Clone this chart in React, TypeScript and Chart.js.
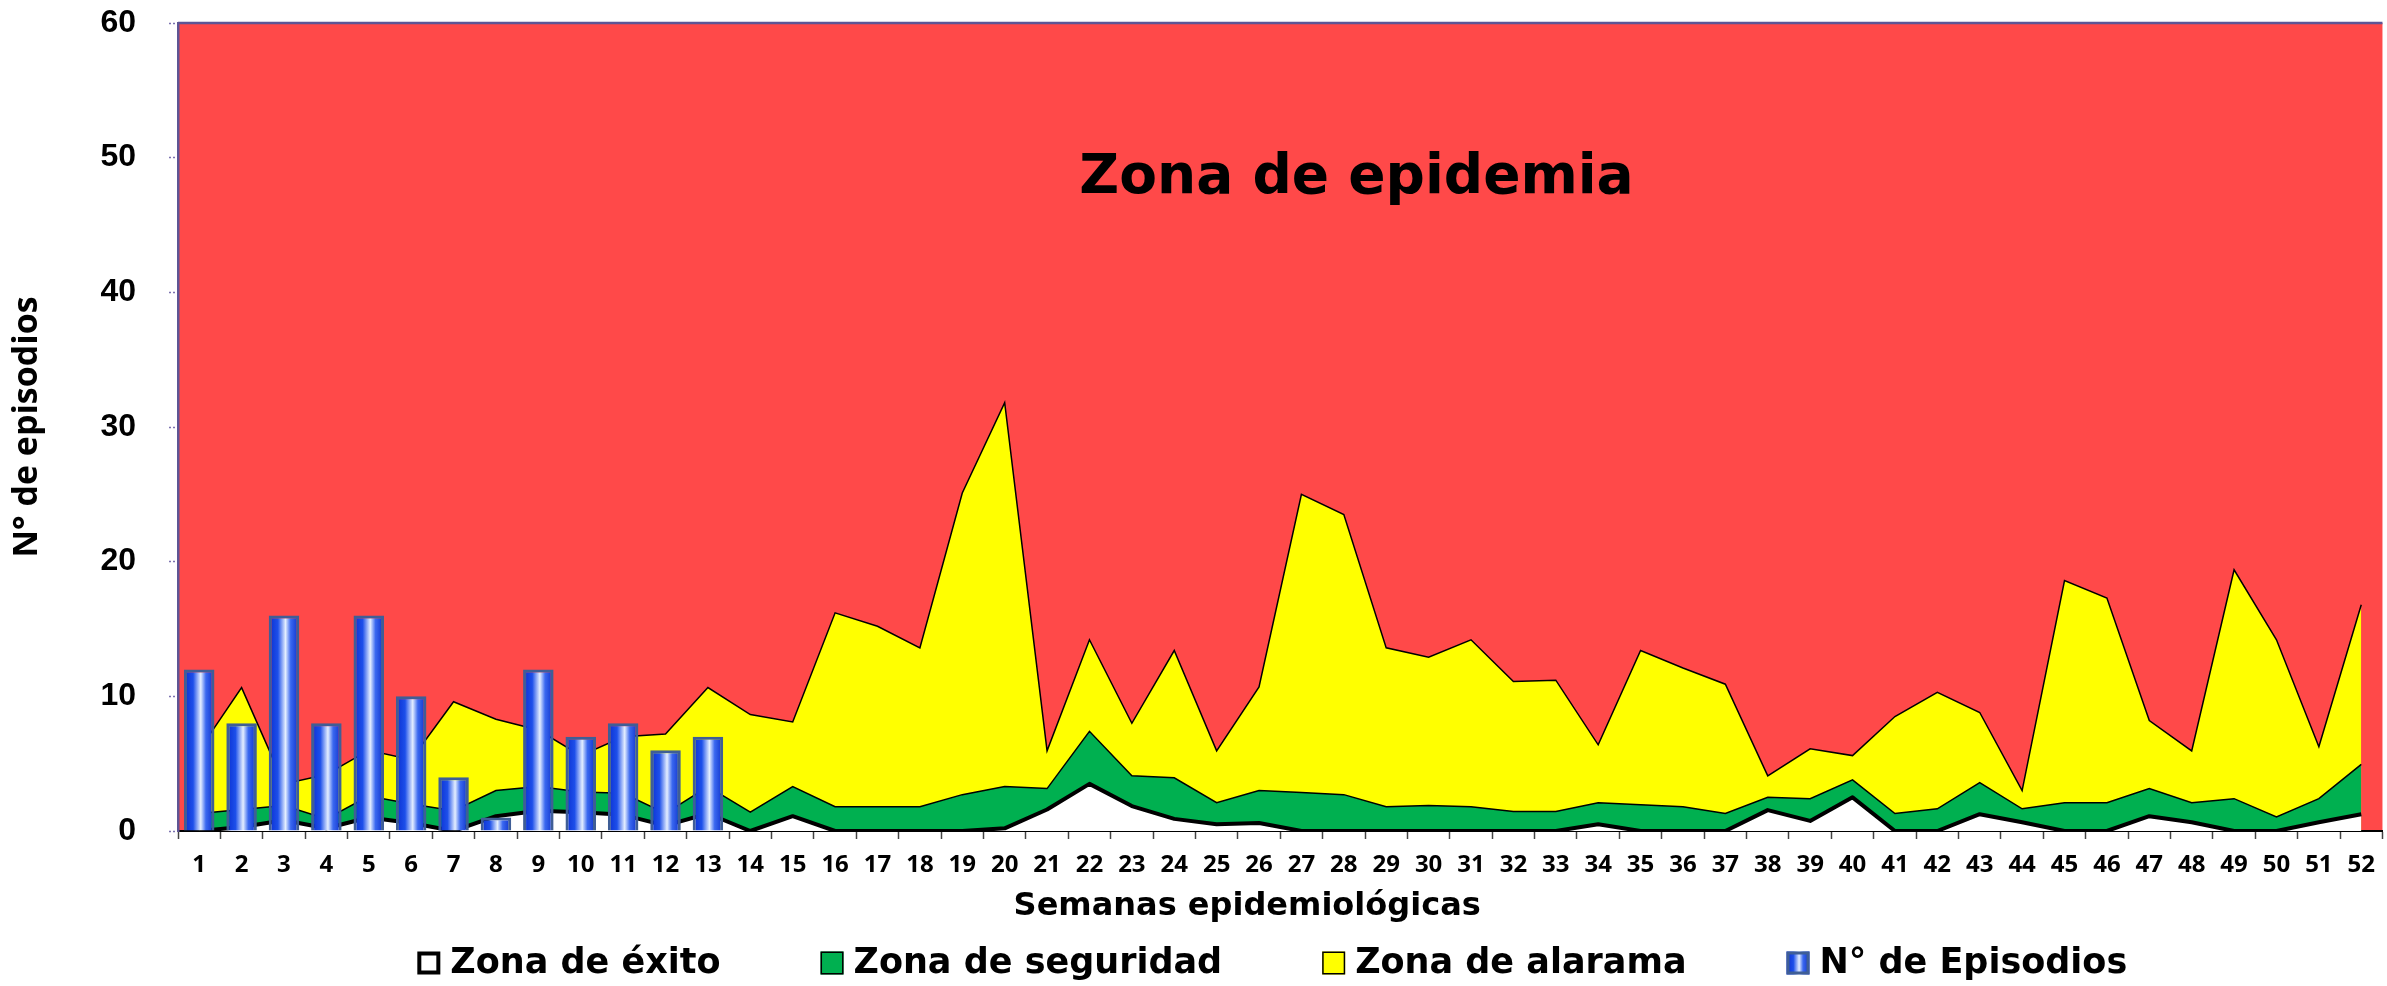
import React, { useEffect, useRef } from 'react';
import { Chart, registerables } from 'chart.js';

Chart.register(...registerables);

// ---- Data ----
const weekLabels = [
  '1', '2', '3', '4', '5', '6', '7', '8', '9', '10', '11', '12', '13',
  '14', '15', '16', '17', '18', '19', '20', '21', '22', '23', '24', '25', '26',
  '27', '28', '29', '30', '31', '32', '33', '34', '35', '36', '37', '38', '39',
  '40', '41', '42', '43', '44', '45', '46', '47', '48', '49', '50', '51', '52',
];

const episodios = [12, 8, 16, 8, 16, 10, 4, 1, 12, 7, 8, 6, 7];

const zonaExito = [
  0, 0.3, 0.8, 0.2, 1.0, 0.6, 0, 1.1, 1.5, 1.4, 1.2, 0.4, 1.3,
  0, 1.1, 0, 0, 0, 0, 0.2, 1.6, 3.5, 1.85, 0.9, 0.5, 0.6,
  0, 0, 0, 0, 0, 0, 0, 0.5, 0, 0, 0, 1.55, 0.75,
  2.5, 0, 0, 1.25, 0.65, 0, 0, 1.1, 0.65, 0, 0, 0.65, 1.25,
];

const zonaSeguridad = [
  1.3, 1.6, 1.9, 0.9, 2.6, 2.0, 1.5, 3.0, 3.3, 2.9, 2.8, 1.3, 3.3,
  1.4, 3.3, 1.8, 1.8, 1.8, 2.7, 3.3, 3.15, 7.4, 4.1, 3.95, 2.1, 3.0,
  2.85, 2.7, 1.8, 1.9, 1.8, 1.45, 1.45, 2.1, 1.95, 1.8, 1.3, 2.5, 2.4,
  3.8, 1.3, 1.65, 3.6, 1.65, 2.1, 2.1, 3.15, 2.1, 2.4, 1.05, 2.4, 4.95,
];

const zonaAlarma = [
  6.0, 10.65, 3.5, 4.2, 6.0, 5.3, 9.6, 8.3, 7.5, 5.6, 7.0, 7.2, 10.65,
  8.65, 8.1, 16.2, 15.2, 13.6, 25.1, 31.8, 5.95, 14.2, 8.0, 13.4, 5.95, 10.7,
  25.0, 23.5, 13.6, 12.9, 14.2, 11.1, 11.2, 6.4, 13.4, 12.1, 10.9, 4.1, 6.1,
  5.6, 8.5, 10.3, 8.8, 3.0, 18.6, 17.3, 8.2, 5.95, 19.4, 14.2, 6.25, 16.8,
];

const seriesNames = ['Zona de éxito', 'Zona de seguridad', 'Zona de alarama', 'N° de Episodios'];
const xTitle = 'Semanas epidemiológicas';
const yTitle = 'N° de episodios';
const epidemicLabel = 'Zona de epidemia';
const epidemicLabelWeekIndex = 27.3;
const epidemicLabelValue = 47.4;

const yMin = 0;
const yMax = 60;
const yStep = 10;

// ---- Styles ----
const RED = '#FF4949';
const YELLOW = '#FFFF00';
const GREEN = '#00B050';
const WHITE = '#FFFFFF';
const PURPLE = '#5E5595';
const BAR_BORDER = '#3F5E96';
const BAR_CAT_PCT = 0.72;

function barGradient(ctx: CanvasRenderingContext2D, x0: number, x1: number) {
  if (!Number.isFinite(x0) || !Number.isFinite(x1) || x1 <= x0) return '#1D4FEA';
  const g = ctx.createLinearGradient(x0, 0, x1, 0);
  g.addColorStop(0, '#0A2ED0');
  g.addColorStop(0.3, '#1D4FEA');
  g.addColorStop(0.55, '#E4EEFF');
  g.addColorStop(0.72, '#3A68F0');
  g.addColorStop(1, '#0A2CC8');
  return g;
}

const backgroundPlugin = {
  id: 'zoneBackground',
  beforeDraw(chart: any) {
    const { ctx, chartArea } = chart;
    if (!chartArea) return;
    ctx.save();
    ctx.fillStyle = RED;
    ctx.fillRect(chartArea.left, chartArea.top, chartArea.right - chartArea.left, chartArea.bottom - chartArea.top);
    ctx.strokeStyle = PURPLE;
    ctx.lineWidth = 2.5;
    ctx.beginPath();
    ctx.moveTo(chartArea.left, chartArea.top);
    ctx.lineTo(chartArea.right, chartArea.top);
    ctx.stroke();
    ctx.restore();
  },
  afterDatasetsDraw(chart: any) {
    const { ctx } = chart;
    const xs = chart.scales.x;
    const ys = chart.scales.y;
    ctx.save();
    ctx.fillStyle = '#000';
    ctx.font = 'bold 55px "DejaVu Sans", sans-serif';
    ctx.textAlign = 'center';
    ctx.textBaseline = 'alphabetic';
    ctx.fillText(epidemicLabel, xs.getPixelForValue(epidemicLabelWeekIndex), ys.getPixelForValue(epidemicLabelValue));
    ctx.restore();
  },
};

const legendPlugin = {
  id: 'customLegend',
  afterDraw(chart: any) {
    const { ctx } = chart;
    ctx.save();
    // x-axis title
    ctx.fillStyle = '#000';
    ctx.font = 'bold 32px "DejaVu Sans", sans-serif';
    ctx.textAlign = 'center';
    ctx.textBaseline = 'middle';
    ctx.fillText(xTitle, chart.width * 0.5225, chart.height - 79);

    // legend
    ctx.font = 'bold 35px "DejaVu Sans", sans-serif';
    const box = 23;
    const gapText = 10;
    const gapItem = 100;
    const widths = seriesNames.map((n) => ctx.measureText(n).width);
    const total = widths.reduce((a: number, w: number) => a + box + gapText + w, 0) + gapItem * (seriesNames.length - 1);
    let x = chart.width * 0.533 - total / 2;
    const y = chart.height - 23;
    seriesNames.forEach((name, i) => {
      const bx = x;
      const by = y - box / 2;
      if (i === 0) {
        ctx.fillStyle = WHITE;
        ctx.fillRect(bx, by, box, box);
        ctx.strokeStyle = '#000';
        ctx.lineWidth = 4;
        ctx.strokeRect(bx + 2, by + 2, box - 4, box - 4);
      } else if (i === 1 || i === 2) {
        ctx.fillStyle = i === 1 ? GREEN : YELLOW;
        ctx.fillRect(bx, by, box, box);
        ctx.strokeStyle = '#000';
        ctx.lineWidth = 1.5;
        ctx.strokeRect(bx + 0.75, by + 0.75, box - 1.5, box - 1.5);
      } else {
        ctx.fillStyle = barGradient(ctx, bx, bx + box);
        ctx.fillRect(bx, by, box, box);
        ctx.strokeStyle = BAR_BORDER;
        ctx.lineWidth = 3;
        ctx.strokeRect(bx + 1.5, by + 1.5, box - 3, box - 3);
      }
      ctx.fillStyle = '#000';
      ctx.textAlign = 'left';
      ctx.textBaseline = 'middle';
      ctx.fillText(name, x + box + gapText, y + 1);
      x += box + gapText + widths[i] + gapItem;
    });
    ctx.restore();
  },
};

export default function App() {
  const canvasRef = useRef<HTMLCanvasElement | null>(null);

  useEffect(() => {
    const canvas = canvasRef.current;
    if (!canvas) return;
    const chart = new Chart(canvas, {
      type: 'bar',
      data: {
        labels: weekLabels,
        datasets: [
          {
            type: 'bar',
            label: seriesNames[3],
            data: episodios,
            order: 0,
            categoryPercentage: BAR_CAT_PCT,
            barPercentage: 1.0,
            borderColor: BAR_BORDER,
            borderWidth: 3,
            backgroundColor: (c: any) => {
              const ch = c.chart;
              const xs = ch.scales && ch.scales.x;
              if (!xs || c.dataIndex === undefined) return '#1D4FEA';
              const cx = xs.getPixelForValue(c.dataIndex);
              const w = (xs.width / weekLabels.length) * BAR_CAT_PCT;
              return barGradient(ch.ctx, cx - w / 2, cx + w / 2);
            },
          } as any,
          {
            type: 'line',
            label: seriesNames[0],
            data: zonaExito,
            order: 1,
            fill: 'origin',
            backgroundColor: WHITE,
            borderColor: '#000',
            borderWidth: 4,
            borderJoinStyle: 'round',
            pointRadius: 0,
            tension: 0,
          } as any,
          {
            type: 'line',
            label: seriesNames[1],
            data: zonaSeguridad,
            order: 2,
            fill: 'origin',
            backgroundColor: GREEN,
            borderColor: '#000',
            borderWidth: 1.5,
            pointRadius: 0,
            tension: 0,
          } as any,
          {
            type: 'line',
            label: seriesNames[2],
            data: zonaAlarma,
            order: 3,
            fill: 'origin',
            backgroundColor: YELLOW,
            borderColor: '#000',
            borderWidth: 1.5,
            pointRadius: 0,
            tension: 0,
          } as any,
        ],
      },
      options: {
        responsive: false,
        animation: false,
        devicePixelRatio: 1,
        layout: { padding: { top: 23, right: 1, left: 0, bottom: 0 } },
        plugins: {
          legend: { display: false },
          tooltip: { enabled: false },
        },
        scales: {
          x: {
            offset: true,
            afterFit: (scale: any) => {
              scale.height = 155;
            },
            grid: {
              drawOnChartArea: false,
              drawTicks: true,
              tickLength: 8,
              tickColor: '#444',
              tickWidth: 1.5,
              offset: true,
            },
            border: { display: true, color: '#000', width: 2 },
            ticks: {
              autoSkip: false,
              maxRotation: 0,
              padding: 12,
              color: '#000',
              font: { family: '"Open Sans", sans-serif', weight: 'bold', size: 24 },
            },
            title: { display: false },
          },
          y: {
            min: yMin,
            max: yMax,
            afterFit: (scale: any) => {
              scale.width = 178;
              scale.paddingTop = 0;
              scale.paddingBottom = 0;
            },
            ticks: {
              stepSize: yStep,
              padding: 33,
              color: '#000',
              font: { family: '"Liberation Sans", Arial, sans-serif', weight: 'bold', size: 32 },
            },
            grid: {
              drawOnChartArea: false,
              drawTicks: true,
              tickLength: 9,
              tickColor: '#7B72B0',
              tickWidth: 1.5,
              tickBorderDash: [2, 2],
            },
            border: { display: true, color: PURPLE, width: 2.5 },
            title: {
              display: true,
              text: yTitle,
              color: '#000',
              font: { family: '"Open Sans", sans-serif', weight: 'bold', size: 34 },
              padding: { top: 7, bottom: 0 },
            },
          },
        },
      } as any,
      plugins: [backgroundPlugin, legendPlugin],
    });
    return () => chart.destroy();
  }, []);

  return (
    <div style={{ position: 'absolute', left: 0, top: 0, width: 2387, height: 986, background: '#fff' }}>
      <canvas ref={canvasRef} width={2387} height={986} style={{ display: 'block', width: 2387, height: 986 }} />
    </div>
  );
}
